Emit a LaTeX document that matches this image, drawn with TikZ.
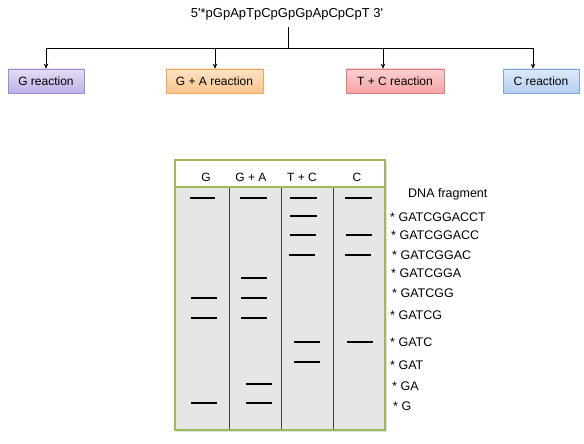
\documentclass[tikz,border=0pt]{standalone}
\usepackage{fontspec}
\setmainfont{Liberation Sans}
\usetikzlibrary{arrows.meta,shadows}
\definecolor{gpurT}{HTML}{E4DDF6}\definecolor{gpurB}{HTML}{BDB0E6}\definecolor{gpurD}{HTML}{9C8CD2}
\definecolor{orT}{HTML}{FEE3C6}\definecolor{orB}{HTML}{FBC48C}\definecolor{orD}{HTML}{EFA45E}
\definecolor{pkT}{HTML}{FCD0D0}\definecolor{pkB}{HTML}{F5A3A3}\definecolor{pkD}{HTML}{DC7E7E}
\definecolor{blT}{HTML}{DDEAFA}\definecolor{blB}{HTML}{B4CDF0}\definecolor{blD}{HTML}{7FA5DA}
\definecolor{gelgreen}{HTML}{9BBB59}
\definecolor{gelgray}{HTML}{E6E6E6}
\tikzset{
  rxn/.style={draw, line width=0.6pt, minimum height=24pt, inner sep=0pt,
    font=\fontsize{12}{14}\selectfont,
    drop shadow={shadow xshift=1pt, shadow yshift=-1.5pt, opacity=0.25}},
  arr/.style={line width=0.8pt, -{Stealth[length=5pt,width=4.5pt]}},
  band/.style={line width=2.6pt, black},
  lbl/.style={anchor=west, inner sep=0pt, font=\fontsize{12.5}{14}\selectfont},
  hdr/.style={inner sep=0pt, font=\fontsize{12}{14}\selectfont},
  lane/.style={draw=black!75, line width=0.7pt}
}
\begin{document}
\begin{tikzpicture}[x=1pt,y=-1pt]
\useasboundingbox (0,0) rectangle (584,444);
% top sequence
\node[inner sep=1pt, font=\fontsize{13}{15}\selectfont] (src) at (287,14)
  {5\textquotesingle*pGpApTpCpGpGpApCpCpT 3\textquotesingle};
\coordinate (hub) at (288,48);
\coordinate (a1) at (46,48);
\coordinate (a2) at (215,48);
\coordinate (a3) at (383,48);
\coordinate (a4) at (533,48);
\draw[line width=0.8pt] (hub |- 0,27) -- (hub);
\draw[line width=0.8pt] (a1) -- (a4);
% reaction boxes
\node[rxn, draw=gpurD, top color=gpurT, bottom color=gpurB, minimum width=76pt] (g) at (46,81) {G reaction};
\node[rxn, draw=orD, top color=orT, bottom color=orB, minimum width=97pt] (ga) at (214.5,81) {G + A reaction};
\node[rxn, draw=pkD, top color=pkT, bottom color=pkB, minimum width=98pt] (tc) at (395,81) {T + C reaction};
\node[rxn, draw=blD, top color=blT, bottom color=blB, minimum width=76pt] (c) at (541,81) {C reaction};
\draw[arr] (a1) -- (a1 |- g.north);
\draw[arr] (a2) -- (a2 |- ga.north);
\draw[arr] (a3) -- (a3 |- tc.north);
\draw[arr] (a4) -- (a4 |- c.north);
% gel
\fill[black, opacity=0.12] (177,162) rectangle (387,432);
\fill[gelgray] (175,187) rectangle (385,430);
\fill[white] (175,160) rectangle (385,187);
\draw[lane] (229,187) -- (229,430);
\draw[lane] (281,187) -- (281,430);
\draw[lane] (333,187) -- (333,430);
\draw[gelgreen, line width=1.4pt] (175,160) rectangle (385,430);
\draw[gelgreen, line width=1.4pt] (175,187) -- (385,187);
\node[hdr] (hg) at (206,177) {G};
\node[hdr] (hga) at (251,177) {G + A};
\node[hdr] (htc) at (302,177) {T + C};
\node[hdr] (hc) at (357,177) {C};
% bands
\draw[band] (190,198) -- (215,198);
\draw[band] (240,198) -- (267,198);
\draw[band] (290,198) -- (317,198);
\draw[band] (345,198) -- (372,198);
\draw[band] (290,216) -- (317,216);
\draw[band] (290,235) -- (316,235);
\draw[band] (346,235) -- (372,235);
\draw[band] (289,255) -- (315,255);
\draw[band] (345,255) -- (371,255);
\draw[band] (241,278) -- (267,278);
\draw[band] (191,298) -- (217,298);
\draw[band] (241,298) -- (267,298);
\draw[band] (191,318) -- (217,318);
\draw[band] (241,318) -- (267,318);
\draw[band] (294,342) -- (320,342);
\draw[band] (347,342) -- (373,342);
\draw[band] (294,362) -- (320,362);
\draw[band] (246,384) -- (272,384);
\draw[band] (191,403) -- (217,403);
\draw[band] (246,403) -- (272,403);
% labels
\node[lbl] (dna) at (408,194) {DNA fragment};
\node[lbl] (l1) at (390,217) {* GATCGGACCT};
\node[lbl] (l2) at (391,235) {* GATCGGACC};
\node[lbl] (l3) at (392,255) {* GATCGGAC};
\node[lbl] (l4) at (391,273) {* GATCGGA};
\node[lbl] (l5) at (392,293) {* GATCGG};
\node[lbl] (l6) at (390,315) {* GATCG};
\node[lbl] (l7) at (390,342) {* GATC};
\node[lbl] (l8) at (390,365) {* GAT};
\node[lbl] (l9) at (392,386) {* GA};
\node[lbl] (l10) at (393,406) {* G};
\end{tikzpicture}
\end{document}
